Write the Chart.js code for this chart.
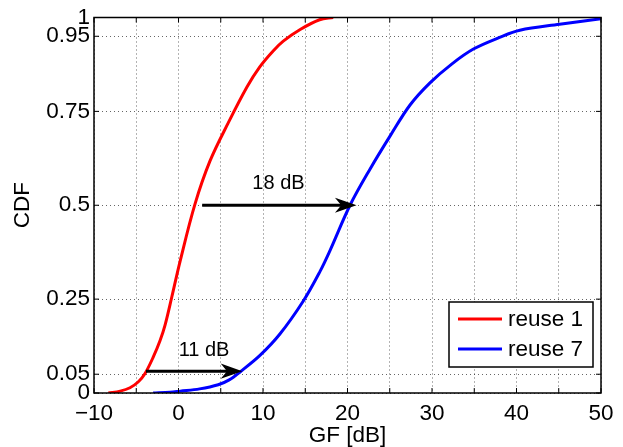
<!DOCTYPE html>
<html>
<head>
<meta charset="utf-8">
<script src="https://cdn.jsdelivr.net/npm/chart.js@4/dist/chart.umd.min.js"></script>
<style>
  body { margin: 0; background: #fff; }
  canvas { display: block; }
</style>
</head>
<body>
<canvas id="cdfChart" width="623" height="447"></canvas>
<script>
// CDF curves (GF in dB, CDF)
const reuse1X = [-8.3, -6.9, -5.74, -4.75, -3.96, -2.98, -2.19, -1.6, -0.8, 0.18, 1.95, 3.73, 5.9, 8.1, 9.6, 11.2, 12.4, 14.4, 16.7, 18.3];
const reuse1Y = [0, 0.005, 0.014, 0.03, 0.052, 0.096, 0.139, 0.18, 0.255, 0.35, 0.503, 0.618, 0.72, 0.815, 0.868, 0.911, 0.937, 0.968, 0.994, 1.0];

const reuse7X = [-3.0, -1.0, 0.2, 2.5, 4.7, 6.0, 7.28, 9.64, 12.0, 14.77, 16.75, 17.9, 20.3, 22.66, 25.03, 27.4, 29.76, 32.33, 34.9, 38.0, 40.4, 45.1, 50];
const reuse7Y = [0, 0.002, 0.005, 0.011, 0.022, 0.035, 0.056, 0.1, 0.157, 0.245, 0.324, 0.378, 0.5, 0.596, 0.684, 0.767, 0.826, 0.876, 0.916, 0.947, 0.966, 0.982, 0.997];

const yTicks = [0, 0.05, 0.25, 0.5, 0.75, 0.95, 1];

// arrows: [x from, x to, y], labels: text, x, y
const arrowFromX = [2.8, -3.85];
const arrowToX = [20.8, 7.28];
const arrowY = [0.5, 0.058];
const arrowText = ['18 dB', '11 dB'];
const arrowTextX = [11.83, 3.02];
const arrowTextY = [0.557, 0.112];

const toPoints = (xs, ys) => xs.map((x, i) => ({ x: x, y: ys[i] }));
const FONT = 'Liberation Sans, Arial, Helvetica, sans-serif';
const GRID = 'rgba(0,0,0,0.6)';

// box, inner ticks, arrows and legend
const extrasPlugin = {
  id: 'extras',
  afterDatasetsDraw(chart) {
    const ctx = chart.ctx;
    const a = chart.chartArea;
    const xs = chart.scales.x;
    const ys = chart.scales.y;
    ctx.save();

    // frame
    ctx.strokeStyle = '#000';
    ctx.lineWidth = 1.5;
    ctx.strokeRect(a.left, a.top, a.right - a.left, a.bottom - a.top);

    // inner tick marks
    ctx.lineWidth = 1;
    ctx.beginPath();
    xs.ticks.forEach(t => {
      const px = xs.getPixelForValue(t.value);
      ctx.moveTo(px, a.bottom); ctx.lineTo(px, a.bottom - 5);
      ctx.moveTo(px, a.top); ctx.lineTo(px, a.top + 5);
    });
    ys.ticks.forEach(t => {
      const py = ys.getPixelForValue(t.value);
      ctx.moveTo(a.left, py); ctx.lineTo(a.left + 5, py);
      ctx.moveTo(a.right, py); ctx.lineTo(a.right - 5, py);
    });
    ctx.stroke();

    // arrows with labels
    ctx.fillStyle = '#000';
    ctx.font = '20px ' + FONT;
    ctx.textAlign = 'center';
    ctx.textBaseline = 'middle';
    for (let i = 0; i < arrowY.length; i++) {
      const x1 = xs.getPixelForValue(arrowFromX[i]);
      const x2 = xs.getPixelForValue(arrowToX[i]);
      const y = ys.getPixelForValue(arrowY[i]);
      ctx.lineWidth = 3;
      ctx.beginPath();
      ctx.moveTo(x1, y);
      ctx.lineTo(x2 - 8, y);
      ctx.stroke();
      ctx.beginPath();
      ctx.moveTo(x2, y);
      ctx.lineTo(x2 - 17, y - 6);
      ctx.lineTo(x2 - 12, y);
      ctx.lineTo(x2 - 17, y + 6);
      ctx.closePath();
      ctx.fill();
      ctx.lineWidth = 1.5;
      ctx.stroke();
      ctx.fillText(arrowText[i], xs.getPixelForValue(arrowTextX[i]), ys.getPixelForValue(arrowTextY[i]));
    }

    // legend box
    const lx = 449, ly = 302, lw = 144, lh = 65;
    ctx.fillStyle = '#fff';
    ctx.fillRect(lx, ly, lw, lh);
    ctx.strokeStyle = '#000';
    ctx.lineWidth = 1.5;
    ctx.strokeRect(lx, ly, lw, lh);
    ctx.font = '22.5px ' + FONT;
    ctx.textAlign = 'left';
    chart.data.datasets.forEach((ds, i) => {
      const rowY = ly + 17 + i * 30;
      ctx.strokeStyle = ds.borderColor;
      ctx.lineWidth = 3;
      ctx.beginPath();
      ctx.moveTo(lx + 9, rowY);
      ctx.lineTo(lx + 53, rowY);
      ctx.stroke();
      ctx.fillStyle = '#000';
      ctx.fillText(ds.label, lx + 59, rowY + 1);
    });
    ctx.restore();
  }
};

new Chart(document.getElementById('cdfChart').getContext('2d'), {
  type: 'scatter',
  data: {
    datasets: [
      {
        label: 'reuse 1',
        data: toPoints(reuse1X, reuse1Y),
        showLine: true,
        borderColor: '#ff0000',
        borderWidth: 3,
        pointRadius: 0,
        tension: 0.35
      },
      {
        label: 'reuse 7',
        data: toPoints(reuse7X, reuse7Y),
        showLine: true,
        borderColor: '#0000ff',
        borderWidth: 3,
        pointRadius: 0,
        tension: 0.35
      }
    ]
  },
  options: {
    responsive: false,
    devicePixelRatio: 1,
    animation: false,
    layout: { padding: { left: 0, right: 22, top: 13, bottom: 0 } },
    plugins: {
      legend: { display: false },
      tooltip: { enabled: false }
    },
    scales: {
      x: {
        type: 'linear',
        min: -10,
        max: 50,
        afterFit: s => { s.height = 54; },
        border: { display: false, dash: [1, 3] },
        grid: { color: GRID, lineWidth: 1, drawTicks: false },
        ticks: {
          stepSize: 5,
          autoSkip: false,
          maxRotation: 0,
          padding: 7,
          color: '#000',
          font: { family: FONT, size: 22.5 },
          callback: v => (v % 10 === 0 ? String(v).replace('-', '\u2212') : '')
        },
        title: {
          display: true,
          text: 'GF [dB]',
          color: '#000',
          font: { family: FONT, size: 22.5, lineHeight: 1 },
          padding: { top: 0, bottom: 0 }
        }
      },
      y: {
        type: 'linear',
        min: 0,
        max: 1,
        afterFit: s => { s.width = 94; },
        afterBuildTicks: s => { s.ticks = yTicks.map(v => ({ value: v })); },
        border: { display: false, dash: [1, 3] },
        grid: { color: GRID, lineWidth: 1, drawTicks: false },
        ticks: {
          autoSkip: false,
          padding: 4,
          color: '#000',
          font: { family: FONT, size: 22.5 },
          callback: v => String(v)
        },
        title: {
          display: true,
          text: 'CDF',
          color: '#000',
          font: { family: FONT, size: 22.5, lineHeight: 1 },
          padding: { top: 12, bottom: 0 }
        }
      }
    }
  },
  plugins: [extrasPlugin]
});
</script>
</body>
</html>
